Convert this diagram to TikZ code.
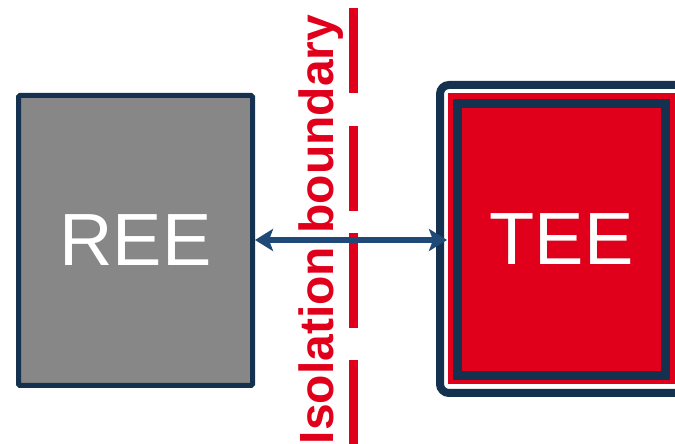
\documentclass[tikz,border=0pt]{standalone}
\usepackage{fontspec}
\setmainfont{Liberation Sans}
\usetikzlibrary{arrows.meta,positioning}
\definecolor{navy}{HTML}{14314F}
\definecolor{arrblue}{HTML}{1F4A78}
\definecolor{teered}{HTML}{E0001B}
\definecolor{reegray}{HTML}{878787}
\tikzset{
  box/.style={draw=navy, inner sep=0pt, outer sep=0pt},
  boxlabel/.style={text=white, font=\fontsize{74}{74}\selectfont},
  dashseg/.style={draw=teered, line width=9pt},
  arr/.style={draw=arrblue, line width=5.5pt, {Stealth[length=18pt,width=22pt,inset=4pt]}-{Stealth[length=18pt,width=22pt,inset=4pt]}}
}
\begin{document}
\begin{tikzpicture}[x=1pt,y=1pt]
\useasboundingbox (0,0) rectangle (675,444);
\clip (0,0) rectangle (675,444);
% REE
\node[box, fill=reegray, line width=5pt, rounded corners=1.5pt, minimum width=234pt, minimum height=290pt] (ree) at (135.5,203.5) {};
\node[boxlabel] (reetext) at (ree.center) {REE};
% TEE outer frame
\node[box, fill=white, line width=8pt, rounded corners=9pt, minimum width=260pt, minimum height=308pt] (teeouter) at (570,205) {};
\node[inner sep=0pt, outer sep=0pt, fill=teered, minimum width=240pt, minimum height=291pt] (teeband) at (568,205.5) {};
\node[inner sep=0pt, outer sep=0pt, fill=navy, minimum width=217pt, minimum height=281pt] (teeframe) at (561.5,204.5) {};
\node[inner sep=0pt, outer sep=0pt, fill=teered, minimum width=199pt, minimum height=263pt] (tee) at (561.5,204.5) {};
\node[boxlabel] (teetext) at (tee.center) {TEE};
% isolation boundary
\coordinate (d1a) at (353.5,436); \coordinate (d1b) at (353.5,351);
\coordinate (d2a) at (353.5,318); \coordinate (d2b) at (353.5,233);
\coordinate (d3a) at (353.5,211); \coordinate (d3b) at (353.5,116);
\coordinate (d4a) at (353.5,84);  \coordinate (d4b) at (353.5,-2);
\draw[dashseg] (d1a) -- (d1b);
\draw[dashseg] (d2a) -- (d2b);
\draw[dashseg] (d3a) -- (d3b);
\draw[dashseg] (d4a) -- (d4b);
\node[rotate=90, anchor=base, inner sep=0pt, text=teered, font=\bfseries\fontsize{48}{48}\selectfont] (iso) at (333,214.5) {Isolation boundary};
% arrow
\draw[arr] ([xshift=2.5pt,yshift=0.5pt]ree.east) -- ([xshift=7pt,yshift=-1pt]teeouter.west);
\end{tikzpicture}
\end{document}
